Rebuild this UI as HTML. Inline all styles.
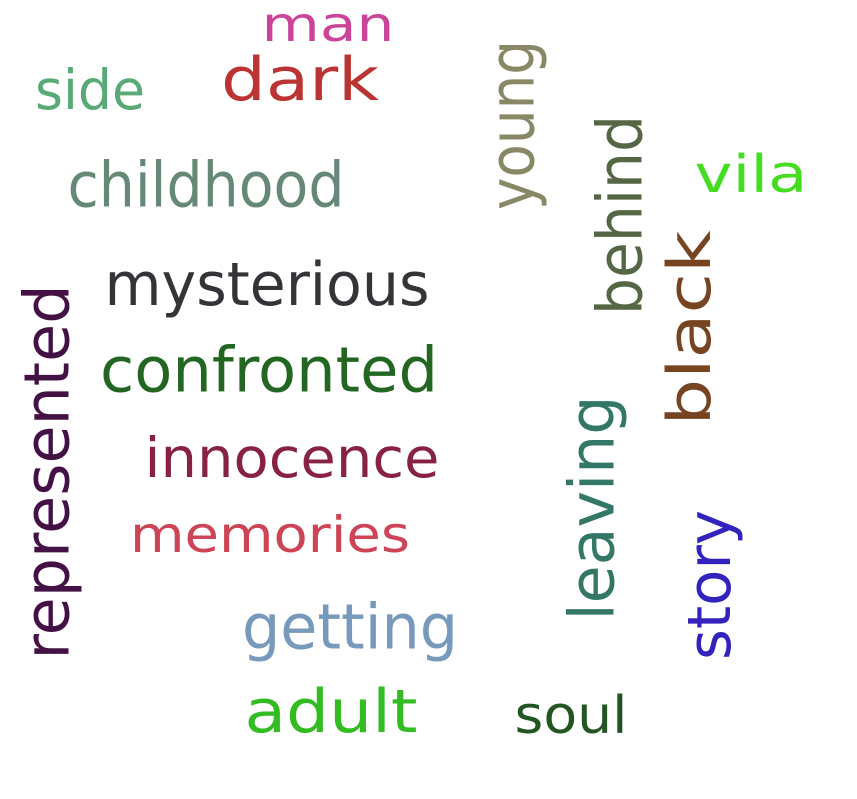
<!DOCTYPE html>
<html><head><meta charset="utf-8"><style>
html,body{margin:0;padding:0;background:#fff;}
svg{display:block;}
text{font-family:"DejaVu Sans","Liberation Sans",sans-serif;}
</style></head><body>
<svg id="cloud" width="857" height="799" viewBox="0 0 857 799"></svg>
<script>
const words = ["man","side","dark","childhood","mysterious","confronted","innocence","memories","getting","adult","soul","represented","young","behind","vila","black","leaving","story"];
const colors = ["#cc4499","#5aaa77","#bb3333","#668877","#333338","#226622","#882244","#cc4455","#7799bb","#33bb22","#225522","#441144","#888866","#556644","#44dd22","#774422","#337766","#3322bb"];
const cxs = [328,90,300,206,267,269,292,270,350,331,571,47,512,620,751,690,592,710];
const cys = [25,90,80,185,285,370,458,535,627,712,716,472,125,215,175,328,508,585];
const lens = [133,110,158,277,325,338,295,280,216,173,113,375,170,200,113,195,225,150];
const sizes = [48,55,60,62,60,62,55,50,62,60,52,62,62,62,52,60,62,60];
const rots = [0,0,0,0,0,0,0,0,0,0,0,-90,-90,-90,0,-90,-90,-90];
const svg = document.getElementById('cloud');
const NS = "http://www.w3.org/2000/svg";
words.forEach((w,i)=>{
  const g = document.createElementNS(NS,'g');
  g.setAttribute('transform',`translate(${cxs[i]},${cys[i]}) rotate(${rots[i]})`);
  
  
  const t = document.createElementNS(NS,'text');
  
  
  t.setAttribute('text-anchor','middle');
  t.setAttribute('dominant-baseline','central');
  t.setAttribute('font-size',sizes[i]);
  t.setAttribute('fill',colors[i]);
  t.setAttribute('textLength',lens[i]);
  t.setAttribute('lengthAdjust','spacingAndGlyphs');
  t.textContent = w;
  g.appendChild(t);
  svg.appendChild(g);
});
</script>
</body></html>
